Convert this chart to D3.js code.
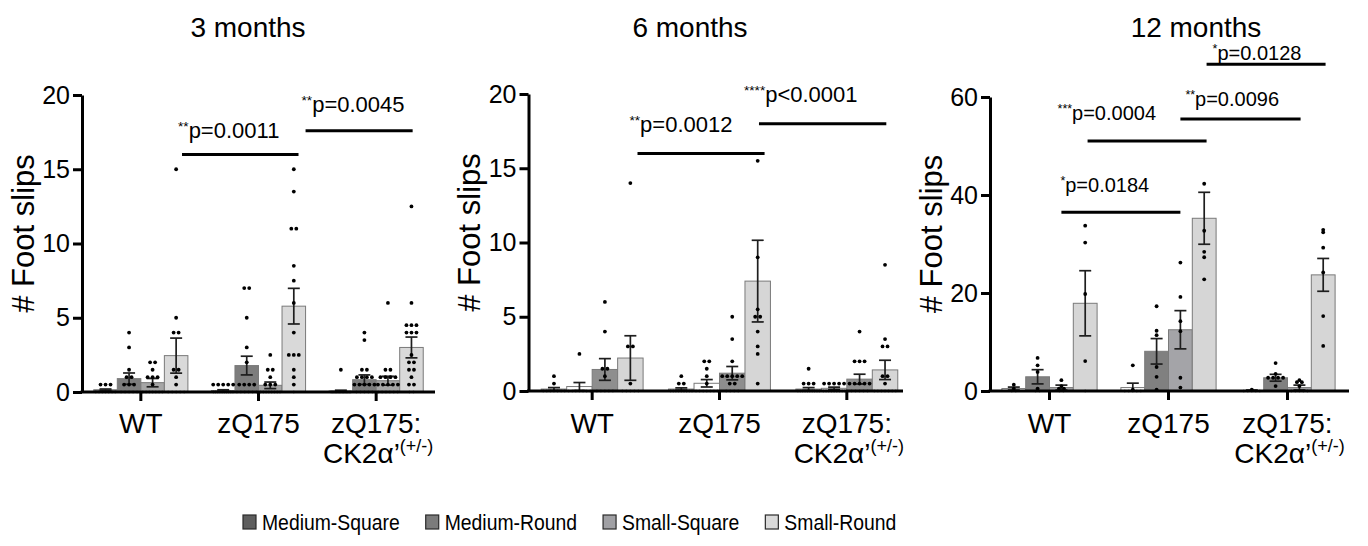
<!DOCTYPE html>
<html>
<head>
<meta charset="utf-8">
<script src="https://cdn.jsdelivr.net/npm/d3@7"></script>
<style>
body { margin: 0; background: #fff; }
svg text { font-family: "Liberation Sans", Arial, Helvetica, sans-serif; fill: #000; }
</style>
</head>
<body>
<div class="container"></div>
<script>
const WIDTH = 1368;
const HEIGHT = 546;

var groups = ["WT", "zQ175", "zQ175:CK2"];
var series = ["Medium-Square", "Medium-Round", "Small-Square", "Small-Round"];
var titles = ["3 months", "6 months", "12 months"];
var yTicksSmall = [0, 5, 10, 15, 20];
var yTicksLarge = [0, 20, 40, 60];

// bar heights (mean) and error (SEM), rows = genotype, cols = series
var means3 = [[0.15, 0.9, 0.63, 2.45], [0.1, 1.78, 0.45, 5.78], [0.07, 0.83, 0.76, 3.0]];
var sem3 = [[0.05, 0.38, 0.28, 1.18], [0.05, 0.63, 0.22, 1.2], [0.05, 0.32, 0.3, 0.7]];
var means6 = [[0.13, 0.3, 1.45, 2.22], [0.13, 0.52, 1.2, 7.4], [0.13, 0.18, 0.8, 1.42]];
var sem6 = [[0.1, 0.27, 0.73, 1.5], [0.08, 0.25, 0.45, 2.75], [0.1, 0.08, 0.33, 0.65]];
var means12 = [[0.5, 2.9, 0.7, 17.9], [0.7, 8.1, 12.5, 35.25], [0.1, 2.7, 0.7, 23.7]];
var sem12 = [[0.3, 1.45, 0.5, 6.65], [0.9, 2.6, 3.9, 5.3], [0.1, 0.7, 0.5, 3.35]];

// individual animals
var dots3 = [
    [[0.5, 0.5, 0.5, 0, 0, 0, 0, 0, 0, 0],
     [4, 3, 1.5, 1, 1, 0.5, 0.5, 0.5, 0, 0, 0, 0, 0],
     [2, 2, 1.5, 1, 1, 1, 0.5, 0, 0, 0, 0, 0, 0, 0],
     [15, 5, 4, 4, 1.5, 1.5, 1, 0.5, 0, 0, 0, 0, 0]],
    [[0.5, 0.5, 0.5, 0.5, 0.5, 0, 0, 0, 0, 0, 0, 0, 0, 0, 0],
     [7, 7, 5, 3, 2, 0.5, 0.5, 0.5, 0.5, 0, 0, 0, 0, 0, 0],
     [2.5, 1.5, 1.5, 1, 0.5, 0.5, 0.5, 0, 0, 0, 0, 0, 0, 0, 0],
     [15, 13.5, 11, 11, 8.5, 7.5, 6, 4, 2.5, 2.5, 2.5, 1.5, 1, 0.5, 0]],
    [[1.5, 0, 0, 0, 0, 0, 0, 0, 0, 0, 0, 0, 0, 0, 0, 0],
     [4, 3.5, 1.5, 1.5, 1, 1, 1, 1, 0.5, 0.5, 0.5, 0.5, 0.5, 0, 0, 0, 0, 0],
     [6, 1.5, 1.5, 1, 1, 1, 1, 0.5, 0.5, 0.5, 0.5, 0.5, 0, 0, 0, 0, 0, 0],
     [12.5, 6, 4.5, 4.5, 4.5, 4, 4, 4, 2.5, 2, 2, 1.5, 1.5, 1, 0.5, 0.5, 0, 0]]
];
var dots6 = [
    [[1, 0.5, 0, 0, 0, 0, 0, 0, 0],
     [2.5, 0, 0, 0, 0, 0, 0, 0],
     [6, 4, 1.5, 1.5, 1, 0, 0, 0, 0, 0],
     [14, 3, 3, 0.5, 0, 0, 0, 0, 0]],
    [[1, 0.5, 0.5, 0, 0, 0, 0, 0, 0, 0, 0, 0],
     [2, 2, 1.5, 1, 0.5, 0, 0, 0, 0, 0, 0, 0],
     [5, 3.5, 2, 1, 1, 1, 1, 1, 0.5, 0.5, 0, 0, 0, 0],
     [15.5, 9, 5.5, 5, 5, 4, 3, 2.5, 0.5]],
    [[1.5, 0.5, 0.5, 0.5, 0, 0, 0, 0, 0, 0, 0, 0, 0, 0],
     [0.5, 0.5, 0.5, 0.5, 0.5, 0, 0, 0, 0, 0, 0, 0, 0, 0],
     [4, 2, 2, 2, 0.5, 0.5, 0.5, 0.5, 0.5, 0, 0, 0, 0, 0],
     [8.5, 3.5, 3, 3, 1, 1, 0.5, 0, 0, 0, 0, 0, 0, 0]]
];
var dots12 = [
    [[1.3, 0.5, 0, 0],
     [6.75, 5.25, 3.9, 0.5, 0, 0],
     [2.2, 1, 0.5, 0.5, 0, 0],
     [33.75, 30.3, 19.8, 6.1, 0]],
    [[5.25, 0.3, 0, 0, 0, 0, 0],
     [17.3, 12.3, 11.4, 4.9, 2.9, 0.3],
     [26.2, 19.2, 14.25, 12.2, 2.7, 0.7],
     [42.3, 32.7, 28.4, 27.3, 22.8]],
    [[0.3, 0, 0, 0, 0, 0],
     [5.7, 3.5, 2.7, 2.7, 2.7, 2.7, 1],
     [2.2, 1.8, 1.8, 1, 0, 0, 0, 0, 0],
     [32.9, 32.4, 29.25, 24.2, 15.3, 9.2]]
];

// comparisons: span in group units (0..3), height in data units
var stars3 = ["**", "**"];
var pLabels3 = ["p=0.0011", "p=0.0045"];
var spans3 = [[0.85, 1.84], [1.90, 2.81]];
var heights3 = [16.0, 17.6];
var stars6 = ["**", "****"];
var pLabels6 = ["p=0.0012", "p<0.0001"];
var spans6 = [[0.856, 1.854], [1.81, 2.81]];
var heights6 = [16.0, 18.0];
var stars12 = ["*", "***", "**", "*"];
var pLabels12 = ["p=0.0184", "p=0.0004", "p=0.0096", "p=0.0128"];
var spans12 = [[0.60, 1.60], [0.82, 1.82], [1.60, 2.61], [1.82, 2.82]];
var heights12 = [36.5, 51, 55.5, 66.7];

// layout
var panelLayout = [
    { left: 82, right: 435, axisEnd: 435, top: 95, bottom: 392, yMax: 20, ticks: yTicksSmall,
      titleX: 248, ylabX: 34, sigFont: 22,
      colors: ["#6f6f6f", "#7d7d7d", "#a6a6a6", "#d9d9d9"],
      labelShift: [[-4, -16], [-4, -19]] },
    { left: 528.5, right: 910.5, axisEnd: 903, top: 94, bottom: 391, yMax: 20, ticks: yTicksSmall,
      titleX: 690, ylabX: 480, sigFont: 22,
      colors: ["#bdbdbd", "#ffffff", "#8e8e8e", "#d6d6d6"],
      labelShift: [[-8, -21], [-15, -22]] },
    { left: 990, right: 1347, axisEnd: 1349, top: 97, bottom: 391, yMax: 60, ticks: yTicksLarge,
      titleX: 1196, ylabX: 942, sigFont: 20,
      colors: ["#ffffff", "#808080", "#a4a4a8", "#d6d6d6"],
      labelShift: [[-1, -20], [-30, -21], [5, -13], [6, -4]] }
];
var legendColors = ["#5e5e5e", "#7b7b7b", "#a0a0a4", "#dadada"];
var LEGEND_X = 243;
var LEGEND_GAP = 26;
var LEGEND_SX = 0.88;

var panelData = [
    { means: means3, sem: sem3, dots: dots3, stars: stars3, pl: pLabels3, spans: spans3, hs: heights3 },
    { means: means6, sem: sem6, dots: dots6, stars: stars6, pl: pLabels6, spans: spans6, hs: heights6 },
    { means: means12, sem: sem12, dots: dots12, stars: stars12, pl: pLabels12, spans: spans12, hs: heights12 }
];

var translate = function (x, y) {
    return "translate(" + x + "," + y + ")";
};

// spread animals with equal values side by side
function spreadDots(values, cx, bw) {
    var out = [];
    var counts = d3.rollup(values, function (v) { return v.length; }, function (v) { return v; });
    counts.forEach(function (k, v) {
        var gap = v === 0 ? Math.min(4, (bw - 4) / Math.max(k - 1, 1)) : 5;
        for (var i = 0; i < k; i++) {
            out.push({ v: v, x: cx + (i - (k - 1) / 2) * gap });
        }
    });
    return out;
}

function drawPanel(svg, idx) {
    var L = panelLayout[idx];
    var D = panelData[idx];

    var x = d3.scaleBand().domain(groups).range([L.left, L.right])
        .paddingInner(0.2).paddingOuter(0.1);
    var xs = d3.scaleBand().domain(series).range([0, x.bandwidth()]);
    var xPos = d3.scaleLinear().domain([0, groups.length]).range([L.left, L.right]);
    var y = d3.scaleLinear().domain([0, L.yMax]).range([L.bottom, L.top]);

    var cells = [];
    groups.forEach(function (grp, gi) {
        series.forEach(function (s, si) {
            cells.push({ g: grp, s: s, si: si, mean: D.means[gi][si], sem: D.sem[gi][si], dots: D.dots[gi][si] });
        });
    });

    var g = svg.append("g");

    g.selectAll(".bar").data(cells).enter().append("rect")
        .attr("class", "bar")
        .attr("x", function (d) { return x(d.g) + xs(d.s); })
        .attr("width", xs.bandwidth())
        .attr("y", function (d) { return y(d.mean); })
        .attr("height", function (d) { return y(0) - y(d.mean); })
        .attr("fill", function (d) { return L.colors[d.si]; })
        .attr("stroke", "#7a7a7a")
        .attr("stroke-width", 1);

    var cx = function (d) { return x(d.g) + xs(d.s) + xs.bandwidth() / 2; };
    var err = g.selectAll(".err").data(cells).enter().append("g")
        .attr("class", "err")
        .attr("stroke", "#1e1e1e")
        .attr("stroke-width", 1.7);
    err.append("line")
        .attr("x1", cx).attr("x2", cx)
        .attr("y1", function (d) { return y(Math.max(0, d.mean - d.sem)); })
        .attr("y2", function (d) { return y(d.mean + d.sem); });
    err.append("line")
        .attr("x1", function (d) { return cx(d) - 6; }).attr("x2", function (d) { return cx(d) + 6; })
        .attr("y1", function (d) { return y(d.mean + d.sem); })
        .attr("y2", function (d) { return y(d.mean + d.sem); });
    err.append("line")
        .attr("x1", function (d) { return cx(d) - 6; }).attr("x2", function (d) { return cx(d) + 6; })
        .attr("y1", function (d) { return y(Math.max(0, d.mean - d.sem)); })
        .attr("y2", function (d) { return y(Math.max(0, d.mean - d.sem)); });

    // y axis
    var yAxis = g.append("g")
        .attr("transform", translate(L.left, 0))
        .call(d3.axisLeft(y).tickValues(L.ticks).tickSize(9).tickPadding(3).tickSizeOuter(0));
    yAxis.select(".domain").attr("stroke-width", 3).attr("stroke", "#000");
    yAxis.selectAll(".tick line").attr("stroke-width", 3).attr("stroke", "#000");
    yAxis.selectAll(".tick text").attr("font-size", 25).attr("font-family", null);

    // x axis
    var xAxis = g.append("g")
        .attr("transform", translate(0, L.bottom))
        .call(d3.axisBottom(x).tickSize(9).tickFormat(""));
    xAxis.select(".domain").remove();
    xAxis.selectAll(".tick line").attr("stroke-width", 3).attr("stroke", "#000");
    g.append("line")
        .attr("x1", L.left - 1.5).attr("x2", L.axisEnd)
        .attr("y1", L.bottom).attr("y2", L.bottom)
        .attr("stroke", "#000").attr("stroke-width", 3);

    // animals
    var pts = [];
    cells.forEach(function (d) {
        pts = pts.concat(spreadDots(d.dots, cx(d), xs.bandwidth()));
    });
    g.selectAll(".dot").data(pts).enter().append("circle")
        .attr("class", "dot")
        .attr("cx", function (d) { return d.x; })
        .attr("cy", function (d) { return y(d.v); })
        .attr("r", function (d) { return d.v === 0 ? 1.2 : 1.9; })
        .attr("fill", "#000");

    // group labels
    groups.forEach(function (grp, gi) {
        var t = g.append("text")
            .attr("x", x(grp) + x.bandwidth() / 2)
            .attr("y", 433)
            .attr("text-anchor", "middle")
            .attr("font-size", 28);
        if (gi < 2) {
            t.text(grp);
        } else {
            t.append("tspan").attr("x", x(grp) + x.bandwidth() / 2).text("zQ175:");
            var t2 = g.append("text")
                .attr("x", x(grp) + x.bandwidth() / 2 + 2)
                .attr("y", 463)
                .attr("text-anchor", "middle")
                .attr("font-size", 28);
            t2.append("tspan").text("CK2\u03b1\u2019");
            t2.append("tspan").attr("font-size", 18).attr("dy", -11).text("(+/-)");
        }
    });

    // y title
    g.append("text")
        .attr("transform", translate(L.ylabX, (L.top + L.bottom) / 2 - 10) + " rotate(-90)")
        .attr("text-anchor", "middle")
        .attr("font-size", 31)
        .text("# Foot slips");

    // panel title
    svg.append("text")
        .attr("x", L.titleX).attr("y", 37)
        .attr("text-anchor", "middle")
        .attr("font-size", 28)
        .text(titles[idx]);

    // significance bars
    D.spans.forEach(function (sp, i) {
        var yy = y(D.hs[i]);
        g.append("line")
            .attr("x1", xPos(sp[0])).attr("x2", xPos(sp[1]))
            .attr("y1", yy).attr("y2", yy)
            .attr("stroke", "#000").attr("stroke-width", 3);
        var lab = g.append("text")
            .attr("x", xPos(sp[0]) + L.labelShift[i][0])
            .attr("y", yy + L.labelShift[i][1])
            .attr("font-size", L.sigFont);
        lab.append("tspan").attr("font-size", L.sigFont * 0.62).attr("dy", -7).text(D.stars[i]);
        lab.append("tspan").attr("dy", 7).text(D.pl[i]);
    });
}

function drawLegend(svg) {
    var xPos = LEGEND_X;
    series.forEach(function (s, i) {
        svg.append("rect")
            .attr("x", xPos).attr("y", 515)
            .attr("width", 13).attr("height", 14)
            .attr("fill", legendColors[i])
            .attr("stroke", "#2a2a2a").attr("stroke-width", 1.2);
        var t = svg.append("text")
            .attr("transform", translate(xPos + 19, 530) + " scale(" + LEGEND_SX + ",1)")
            .attr("font-size", 22)
            .text(s);
        xPos += 19 + t.node().getComputedTextLength() * LEGEND_SX + LEGEND_GAP;
    });
}

var loadChart = function () {
    var svg = d3.select(".container").append("svg")
        .attr("width", WIDTH)
        .attr("height", HEIGHT);
    for (var i = 0; i < panelLayout.length; i++) {
        drawPanel(svg, i);
    }
    drawLegend(svg);
};

window.onload = loadChart;
</script>
</body>
</html>
